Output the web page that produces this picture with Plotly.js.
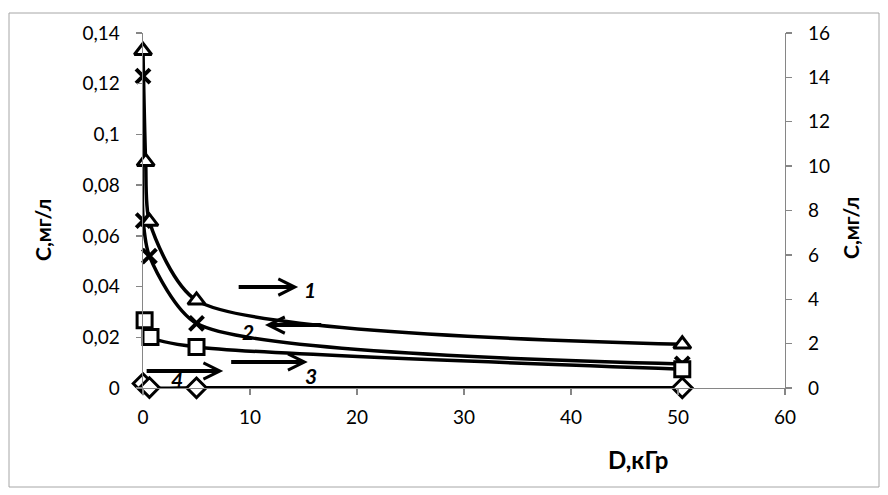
<!DOCTYPE html>
<html>
<head>
<meta charset="utf-8">
<script src="https://cdn.plot.ly/plotly-3.0.1.min.js"></script>
<style>html,body{margin:0;padding:0;background:#fff;}#chart{width:888px;height:495px;}</style>
</head>
<body>
<div id="chart"></div>
<script>
// ---- data ----
const doseTri = [0, 0.25, 0.6, 5, 50.4];
const cTri = [15.2, 10.2, 7.5, 3.95, 1.97];          // curve 1, right axis
const doseCross = [0, 0.02, 0.6, 5, 50.4];
const cCross = [0.123, 0.066, 0.052, 0.0255, 0.0095]; // curve 2, left axis
const doseSq = [0.15, 0.7, 5, 50.4];
const cSq = [3.05, 2.3, 1.85, 0.85];                  // curve 3, right axis
const doseDia = [0, 0.6, 5, 50.4];
const cDia = [0.2, 0.02, 0.01, 0.01];                 // curve 4, right axis

const xTickVals = [0, 10, 20, 30, 40, 50, 60];
const xTickText = ['0', '10', '20', '30', '40', '50', '60'];
const yLeftVals = [0, 0.02, 0.04, 0.06, 0.08, 0.1, 0.12, 0.14];
const yLeftText = ['0', '0,02', '0,04', '0,06', '0,08', '0,1', '0,12', '0,14'];
const yRightVals = [0, 2, 4, 6, 8, 10, 12, 14, 16];
const yRightText = ['0', '2', '4', '6', '8', '10', '12', '14', '16'];

const xTitle = 'D,кГр';
const yTitle = 'С,мг/л';
const curveLabels = ['1', '2', '3', '4'];

const FONT = 'Lato, "Open Sans", "DejaVu Sans", sans-serif';
const lineStyle = {color: '#000', width: 3.5, shape: 'spline', smoothing: 0.7};

function mk(symbol, size) {
  return {symbol: symbol, size: size, color: '#fff', line: {color: '#000', width: 3}};
}

const traces = [
  {x: doseCross, y: cCross, yaxis: 'y', mode: 'lines+markers', cliponaxis: false, line: lineStyle,
   marker: {symbol: 'x-thin', size: 14, color: '#000', line: {color: '#000', width: 4}}},
  {x: doseDia, y: cDia, yaxis: 'y2', mode: 'lines+markers', cliponaxis: false, line: lineStyle, marker: mk('diamond', 15)},
  {x: doseSq, y: cSq, yaxis: 'y2', mode: 'lines+markers', cliponaxis: false, line: lineStyle, marker: mk('square', 15)},
  {x: doseTri, y: cTri, yaxis: 'y2', mode: 'lines+markers', cliponaxis: false, line: lineStyle, marker: mk('triangle-up', 15)}
];

const axisGray = '#868686';

function arrow(xTip, yTip, xTail) {
  return {x: xTip, y: yTip, xref: 'x', yref: 'y', ax: xTail, ay: yTip, axref: 'x', ayref: 'y',
    showarrow: true, arrowhead: 5, arrowsize: 0.8, arrowwidth: 4, arrowcolor: '#000', text: ''};
}
function label(x, y, t) {
  return {x: x, y: y, xref: 'x', yref: 'y', text: '<b><i>' + t + '</i></b>', showarrow: false,
    xanchor: 'center', yanchor: 'middle', font: {family: FONT, size: 21, color: '#000'}};
}
function title(px, py, t, angle, size) {
  return {xref: 'paper', yref: 'paper', x: (px - 143) / 642, y: (388 - py) / 355, text: '<b>' + t + '</b>',
    showarrow: false, textangle: angle, xanchor: 'center', yanchor: 'middle',
    font: {family: FONT, size: size, color: '#000'}};
}

const layout = {
  width: 888, height: 495,
  margin: {l: 143, r: 103, t: 33, b: 107, pad: 0},
  paper_bgcolor: '#fff', plot_bgcolor: '#fff',
  showlegend: false,
  separators: ', ',
  font: {family: FONT, size: 18, color: '#000'},
  xaxis: {
    range: [0, 60], tickvals: xTickVals, ticktext: xTickText,
    showgrid: false, zeroline: false, showline: true, linecolor: axisGray, linewidth: 1.3,
    ticks: 'outside', ticklen: 6, tickcolor: axisGray, tickwidth: 1.3, ticklabelstandoff: 6,
    tickfont: {family: FONT, size: 19, color: '#000'}
  },
  yaxis: {
    range: [0, 0.14], tickvals: yLeftVals, ticktext: yLeftText,
    showgrid: false, zeroline: false, showline: true, linecolor: axisGray, linewidth: 1.3,
    ticks: 'outside', ticklen: 6, tickcolor: axisGray, tickwidth: 1.3, ticklabelstandoff: 12,
    tickfont: {family: FONT, size: 19, color: '#000'}
  },
  yaxis2: {
    range: [0, 16], tickvals: yRightVals, ticktext: yRightText, overlaying: 'y', side: 'right',
    showgrid: false, zeroline: false, showline: true, linecolor: axisGray, linewidth: 1.3,
    ticks: 'outside', ticklen: 6, tickcolor: axisGray, tickwidth: 1.3, ticklabelstandoff: 12,
    tickfont: {family: FONT, size: 19, color: '#000'}
  },
  shapes: [
    {type: 'rect', xref: 'paper', yref: 'paper',
     x0: (9 - 143) / 642, x1: (879 - 143) / 642, y0: (388 - 487) / 355, y1: (388 - 13) / 355,
     line: {color: '#a6a6a6', width: 1}, fillcolor: 'rgba(0,0,0,0)'}
  ],
  annotations: [
    title(43, 230, yTitle, -90, 21),
    title(851, 228, yTitle, -90, 21),
    title(638, 459, xTitle, 0, 24),
    arrow(14.5, 0.0398, 8.8),
    label(15.6, 0.039, curveLabels[0]),
    arrow(11.4, 0.0248, 16.8),
    label(9.8, 0.0221, curveLabels[1]),
    arrow(15.4, 0.01025, 8.1),
    label(15.7, 0.0051, curveLabels[2]),
    arrow(7.5, 0.0067, 0.2),
    label(3.2, 0.0032, curveLabels[3])
  ]
};

Plotly.newPlot('chart', traces, layout, {displayModeBar: false, staticPlot: true});
</script>
</body>
</html>
